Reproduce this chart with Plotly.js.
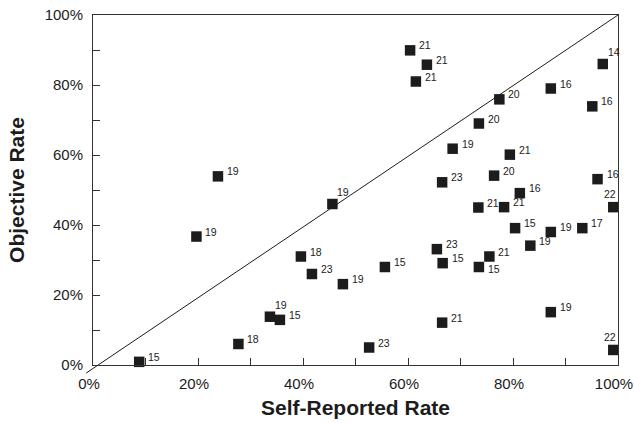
<!DOCTYPE html>
<html>
<head>
<meta charset="utf-8">
<script src="https://cdn.plot.ly/plotly-3.0.1.min.js"></script>
<style>html,body{margin:0;padding:0;background:#fff;}#chart{width:634px;height:423px;}</style>
</head>
<body>
<div id="chart"></div>
<script>
// Self-reported rate (%) for each point
const selfReported = [60.4, 63.6, 61.5, 97.1, 87.2, 77.4, 95.1, 73.5, 68.5, 79.4,
  76.4, 96.1, 66.5, 23.8, 45.6, 19.7, 39.6, 41.7, 47.6, 33.7,
  35.6, 27.7, 8.8, 81.3, 73.4, 78.3, 99.1, 80.4, 87.2, 93.2,
  83.3, 65.5, 66.6, 75.5, 73.5, 55.6, 87.2, 66.5, 52.6, 99.1];
// Objective rate (%) for each point
const objective = [89.9, 85.8, 81.0, 86.0, 79.0, 75.9, 73.9, 69.0, 61.8, 60.1,
  54.1, 53.1, 52.2, 53.9, 46.0, 36.7, 31.0, 26.0, 23.1, 13.8,
  12.9, 6.0, 0.9, 49.1, 45.0, 45.1, 45.1, 39.1, 38.0, 39.1,
  34.1, 33.1, 29.1, 31.0, 28.0, 28.0, 15.1, 12.1, 5.0, 4.3];
// Point labels
const pointLabels = ['21', '21', '21', '14', '16', '20', '16', '20', '19', '21',
  '20', '16', '23', '19', '19', '19', '18', '23', '19', '19',
  '15', '18', '15', '16', '21', '21', '22', '15', '19', '17',
  '19', '23', '15', '21', '15', '15', '19', '21', '23', '22'];
// Label placement codes (style)
const labelPlacement = ['ur', 'ur', 'ur', 't', 'ur', 'ur', 'ur', 'ur', 'ur', 'ur',
  'ur', 'ur', 'ur', 'ur', 't', 'ur', 'ur', 'ur', 'ur', 't',
  'ur', 'ur', 'ur', 'ur', 'ur', 'ur', 'tl', 'ur', 'ur', 'ur',
  'ur', 'ur', 'ur', 'ur', 'r', 'ur', 'ur', 'ur', 'ur', 'tl'];
const tickValues = [0, 20, 40, 60, 80, 100];
const tickLabels = ['0%', '20%', '40%', '60%', '80%', '100%'];

const FONT = '"Liberation Sans", Arial, Helvetica, sans-serif';
const INK = '#1c1c1c';

const placements = {
  ur: {xanchor: 'left', xshift: 7, yshift: 5},
  t:  {xanchor: 'left', xshift: 3, yshift: 12},
  tl: {xanchor: 'center', xshift: -3, yshift: 13},
  r:  {xanchor: 'left', xshift: 7, yshift: -2}
};

const annotations = selfReported.map((x, i) => Object.assign({
  x: x, y: objective[i], xref: 'x', yref: 'y',
  text: pointLabels[i], showarrow: false, yanchor: 'middle',
  font: {family: FONT, size: 10.5, color: INK}
}, placements[labelPlacement[i]]));

const trace = {
  type: 'scatter', mode: 'markers',
  x: selfReported, y: objective,
  marker: {symbol: 'square', size: 10.5, color: INK, line: {width: 0}},
  cliponaxis: false, hoverinfo: 'skip'
};

const axisCommon = {
  range: [0, 100], tickvals: tickValues, ticktext: tickLabels,
  ticks: 'inside', ticklen: 7, tickwidth: 1, tickcolor: '#333',
  minor: {dtick: 10, tick0: 0, ticks: 'inside', ticklen: 7, tickwidth: 1, tickcolor: '#333'},
  showline: true, linecolor: '#333', linewidth: 1, mirror: true,
  showgrid: false, zeroline: false, automargin: false,
  ticklabeloverflow: 'allow',
  tickfont: {family: FONT, size: 15, color: INK}
};

const layout = {
  width: 634, height: 423,
  margin: {l: 93, r: 16, t: 15, b: 58, pad: 0},
  paper_bgcolor: '#fff', plot_bgcolor: '#fff',
  showlegend: false,
  xaxis: Object.assign({}, axisCommon, {
    ticklabelstandoff: 5,
    ticklabelshift: -4,
    title: {text: 'Self-Reported Rate', standoff: 9,
      font: {family: FONT, size: 21, color: INK, weight: 'bold'}}
  }),
  yaxis: Object.assign({}, axisCommon, {
    ticklabelstandoff: 6,
    title: {text: 'Objective Rate', standoff: 14,
      font: {family: FONT, size: 21, color: INK, weight: 'bold'}}
  }),
  shapes: [{
    type: 'line', xref: 'paper', yref: 'paper',
    x0: -0.013, y0: -0.023, x1: 1, y1: 1,
    line: {color: INK, width: 1}
  }],
  annotations: annotations
};

Plotly.newPlot('chart', [trace], layout, {staticPlot: true, displayModeBar: false});
</script>
</body>
</html>
